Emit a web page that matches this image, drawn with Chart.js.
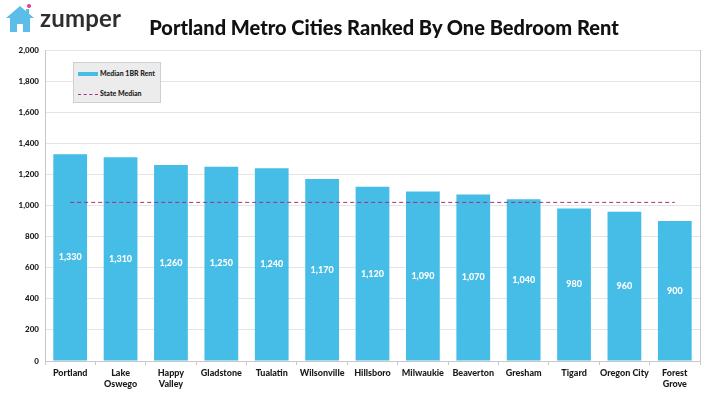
<!DOCTYPE html>
<html>
<head>
<meta charset="utf-8">
<script src="https://cdn.jsdelivr.net/npm/chart.js@4/dist/chart.umd.min.js"></script>
<style>
  html, body { margin: 0; padding: 0; background: #fff; }
  body { width: 720px; height: 405px; position: relative; overflow: hidden; font-family: Lato, "Open Sans", sans-serif; }
  #wrap { position: absolute; left: 0; top: 0; width: 720px; height: 405px; }
  .logo { position: absolute; left: 5px; top: 3px; height: 32px; }
  .logo svg { position: absolute; left: 0; top: 0; }
  .logo .word { position: absolute; left: 35px; top: 0px; font-size: 24px; font-weight: 700; color: #2e2e2e; letter-spacing: 0.2px; }
  .title { position: absolute; left: 0; width: 768px; top: 15px; text-align: center; font-size: 20px; font-weight: 900; color: #111; }
  .legend { position: absolute; left: 73px; top: 62px; width: 86px; height: 39px; background: #ececec; border: 1px solid #cfcfcf; font-size: 7px; font-weight: 900; color: #222; }
  .legend .row { position: absolute; left: 4px; height: 10px; line-height: 10px; white-space: nowrap; }
  .legend .sw { display: inline-block; width: 20px; vertical-align: middle; margin-right: 2px; }
</style>
</head>
<body>
<div id="wrap"><canvas id="chart" width="720" height="405"></canvas></div>

<div class="logo">
  <svg width="34" height="32" viewBox="0 0 34 32">
    <path d="M1 15 L15 3 L29 15 L25 15 L25 29 L18 29 L18 21 L12 21 L12 29 L5 29 L5 15 Z" fill="#5bbde8"/>
    <rect x="21" y="6" width="3" height="8" fill="#5bbde8"/>
    <circle cx="24" cy="3" r="2" fill="#e8388f"/>
  </svg>
  <div class="word">zumper</div>
</div>
<div class="title">Portland Metro Cities Ranked By One Bedroom Rent</div>

<div class="legend">
  <div class="row" style="top:5px"><span class="sw" style="height:4px;background:#45bde6"></span>Median 1BR Rent</div>
  <div class="row" style="top:25px"><span class="sw" style="height:0;border-top:1px dashed #a0307e"></span>State Median</div>
</div>

<script>
(() => {
  "use strict";

const cities = ["Portland", ["Lake", "Oswego"], ["Happy", "Valley"], "Gladstone", "Tualatin", "Wilsonville",
  "Hillsboro", "Milwaukie", "Beaverton", "Gresham", "Tigard", "Oregon City", ["Forest", "Grove"]];
const rent = [1330, 1310, 1260, 1250, 1240, 1170, 1120, 1090, 1070, 1040, 980, 960, 900];
const stateMedian = [1020, 1020, 1020, 1020, 1020, 1020, 1020, 1020, 1020, 1020, 1020, 1020, 1020];
const yTicks = [0, 200, 400, 600, 800, 1000, 1200, 1400, 1600, 1800, 2000];

const fmt = (n) => Number(n).toLocaleString("en-US");

// white value labels in the middle of each bar
const barLabels = {
  id: "barLabels",
  afterDatasetsDraw(chart) {
    const ctx = chart.ctx;
    const idx = chart.data.datasets.findIndex(d => d.type === "bar");
    const meta = chart.getDatasetMeta(idx);
    ctx.save();
    ctx.fillStyle = "#fff";
    ctx.font = "900 9px Lato, sans-serif";
    ctx.textAlign = "center";
    ctx.textBaseline = "middle";
    meta.data.forEach((bar, i) => {
      const mid = (bar.y + bar.base) / 2;
      ctx.fillText(fmt(rent[i]), bar.x, mid);
    });
    ctx.restore();
  }
};

// right side frame line
const rightBorder = {
  id: "rightBorder",
  afterDraw(chart) {
    const { ctx, chartArea } = chart;
    ctx.save();
    ctx.strokeStyle = "#c8c8c8";
    ctx.lineWidth = 1;
    ctx.beginPath();
    ctx.moveTo(Math.round(chartArea.right) + 0.5, chartArea.top);
    ctx.lineTo(Math.round(chartArea.right) + 0.5, chartArea.bottom);
    ctx.stroke();
    ctx.restore();
  }
};

new Chart(document.getElementById("chart"), {
  data: {
    labels: cities,
    datasets: [
      {
        type: "line",
        label: "State Median",
        data: stateMedian,
        borderColor: "#a0307e",
        borderWidth: 1,
        borderDash: [4, 3],
        pointRadius: 0,
        fill: false,
        order: 0
      },
      {
        type: "bar",
        label: "Median 1BR Rent",
        data: rent,
        backgroundColor: "#45bde6",
        categoryPercentage: 1,
        barPercentage: 0.67,
        order: 1
      }
    ]
  },
  options: {
    responsive: false,
    animation: false,
    layout: { padding: { left: 0, right: 20, top: 50, bottom: 0 } },
    plugins: { legend: { display: false }, tooltip: { enabled: false } },
    scales: {
      x: {
        offset: true,
        grid: { drawOnChartArea: false, drawTicks: true, tickLength: 4, color: "#c8c8c8", offset: true },
        border: { color: "#c8c8c8" },
        ticks: { color: "#1a1a1a", font: { family: "Lato", size: 9, weight: "900" }, padding: 3, maxRotation: 0, autoSkip: false },
        afterFit(scale) { scale.height = 44; }
      },
      y: {
        min: 0,
        max: 2000,
        afterBuildTicks(scale) { scale.ticks = yTicks.map(v => ({ value: v })); },
        grid: { color: "#e4e4e4", drawTicks: false },
        border: { color: "#c8c8c8" },
        ticks: { color: "#1a1a1a", font: { family: "Lato", size: 8, weight: "900" }, padding: 6, callback: (v) => fmt(v) },
        afterFit(scale) { scale.width = 45; }
      }
    }
  },
  plugins: [barLabels, rightBorder]
});
})();
</script>
</body>
</html>
